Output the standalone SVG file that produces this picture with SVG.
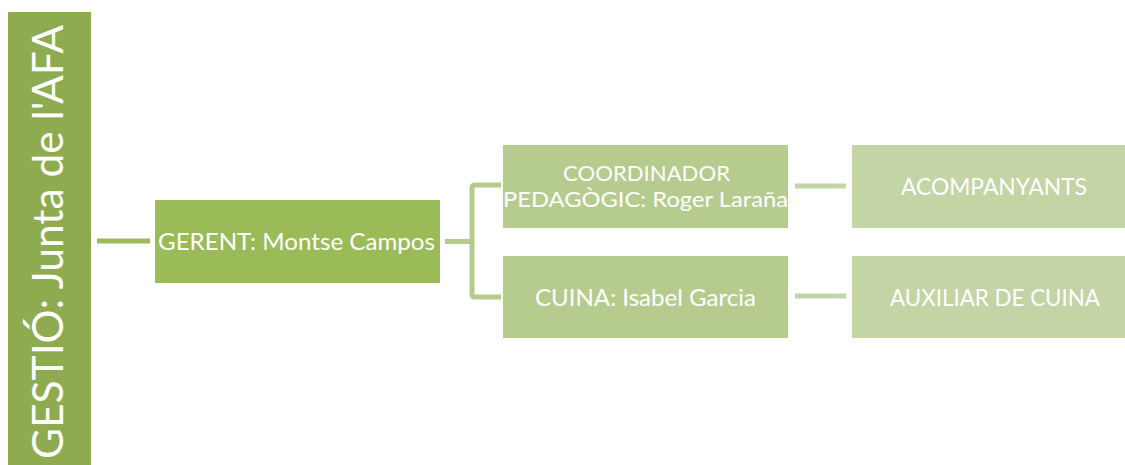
<svg xmlns="http://www.w3.org/2000/svg" width="1125" height="465" viewBox="0 0 1125 465">
<style>
text{font-family:Lato,"Open Sans","Liberation Sans",sans-serif;fill:#ffffff;}
.t{font-size:24px;text-anchor:middle;}
.t2{font-size:21.5px;text-anchor:middle;}
.c1{fill:none;stroke:#9bbb59;stroke-width:5;}
.c2{fill:none;stroke:#b5cb8d;stroke-width:5;stroke-linejoin:round;}
.c3{fill:none;stroke:#c3d5a6;stroke-width:5;}
</style>
<rect width="1125" height="465" fill="#ffffff"/>
<g id="connectors">
<line class="c1" x1="97" y1="241" x2="150" y2="241"/>
<path class="c2" d="M445 241.5 H472 M501 185 H475 Q472 185 472 188 V294 Q472 297 475 297 H501"/>
<line class="c3" x1="795" y1="186" x2="846" y2="186"/>
<line class="c3" x1="795" y1="296" x2="846" y2="296"/>
</g>
<g id="gestio">
<rect x="8" y="12" width="83" height="453" fill="#8eab50"/>
<text transform="translate(63,459) rotate(-90)" font-size="42" textLength="434" lengthAdjust="spacingAndGlyphs">GESTIÓ: Junta de l'AFA</text>
</g>
<g id="gerent">
<rect x="155" y="200" width="285" height="83" fill="#9bbb59"/>
<text class="t" x="296.5" y="250" textLength="277" lengthAdjust="spacingAndGlyphs">GERENT: Montse Campos</text>
</g>
<g id="coordinador">
<rect x="503" y="145" width="285" height="83" fill="#b6cc8f"/>
<text class="t2" x="646.5" y="181" textLength="167" lengthAdjust="spacingAndGlyphs">COORDINADOR</text>
<text class="t2" x="645.5" y="207" textLength="285" lengthAdjust="spacingAndGlyphs">PEDAGÒGIC: Roger Laraña</text>
</g>
<g id="cuina">
<rect x="503" y="256" width="285" height="82" fill="#b6cc8f"/>
<text class="t" x="645.5" y="306" textLength="221" lengthAdjust="spacingAndGlyphs">CUINA: Isabel Garcia</text>
</g>
<g id="acompanyants">
<rect x="852" y="145" width="273" height="83" fill="#c3d4a5"/>
<text class="t" x="994" y="195" textLength="186" lengthAdjust="spacingAndGlyphs">ACOMPANYANTS</text>
</g>
<g id="auxiliar">
<rect x="852" y="256" width="273" height="82" fill="#c3d4a5"/>
<text class="t" x="995" y="306" textLength="210" lengthAdjust="spacingAndGlyphs">AUXILIAR DE CUINA</text>
</g>
</svg>
